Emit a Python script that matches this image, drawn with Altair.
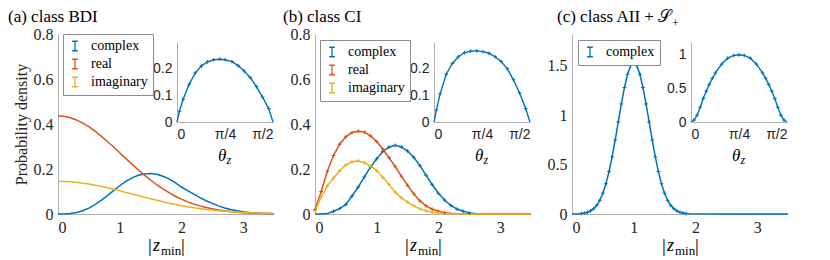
import math
import altair as alt
import pandas as pd

BLUE, ORANGE, YELLOW = "#0072BD", "#D95319", "#EDB120"
SERIF = "Liberation Serif"
SANS = "Liberation Sans"
AX = "#b0b0b0"
TXT = "#262626"

W, H = 216, 180
IX = [119, 215]       # inset x range (px inside plot area)
IY = [88, 8]          # inset y range (px inside plot area)

# ---------------- data ----------------
X_MAIN = [0.0, 0.1, 0.2, 0.3, 0.4, 0.5, 0.6, 0.7, 0.8, 0.9, 1.0, 1.1, 1.2, 1.3, 1.4, 1.5, 1.6, 1.7,
          1.8, 1.9, 2.0, 2.1, 2.2, 2.3, 2.4, 2.5, 2.6, 2.7, 2.8, 2.9, 3.0, 3.1, 3.2, 3.3, 3.4, 3.5]

A_COMPLEX = [0, .0003, .0019, .0063, .0143, .0262, .042, .061, .082, .104, .1255, .145, .1605, .172,
             .178, .180, .1765, .168, .156, .139, .12, .104, .088, .073, .059, .047, .036, .027, .020,
             .014, .010, .007, .005, .003, .002, .001]
A_REAL = [.436, .434, .428, .418, .404, .388, .368, .346, .322, .298, .272, .246, .221, .196, .173,
          .151, .130, .112, .095, .079, .066, .054, .044, .036, .029, .023, .018, .014, .011, .008,
          .006, .0046, .0034, .0025, .0018, .0013]
A_IMAG = [.145, .1445, .143, .1406, .137, .133, .128, .123, .117, .110, .103, .096, .089, .082, .0745,
          .0675, .061, .054, .048, .0425, .037, .032, .028, .024, .0205, .0173, .0146, .0122, .0101,
          .0083, .0068, .0055, .0045, .0036, .0029, .0023]

B_COMPLEX = [0, 0, .002, .012, .024, .042, .08, .12, .165, .208, .245, .278, .297, .305, .298, .28,
             .252, .215, .172, .13, .092, .062, .038, .022, .012, .005, .002, .001, 0, 0, 0, 0, 0, 0, 0, 0]
B_REAL = [.02, .10, .19, .26, .31, .343, .362, .368, .364, .347, .322, .288, .25, .21, .168, .127, .09,
          .058, .036, .021, .012, .006, .003, .0015, .0007, .0003, 0, 0, 0, 0, 0, 0, 0, 0, 0, 0]
B_IMAG = [.015, .075, .125, .16, .192, .218, .232, .236, .228, .213, .193, .163, .131, .097, .072, .053,
          .036, .023, .014, .008, .005, .003, .0015, .001, 0, 0, 0, 0, 0, 0, 0, 0, 0, 0, 0, 0]

C_X = [0, 0.1, 0.15, 0.2, 0.25, 0.3, 0.35, 0.4, 0.45, 0.5, 0.55, 0.6, 0.65, 0.7, 0.75, 0.8, 0.85, 0.9,
       0.95, 1.0, 1.05, 1.1, 1.15, 1.2, 1.25, 1.3, 1.35, 1.4, 1.45, 1.5, 1.55, 1.6, 1.65, 1.7, 1.75, 1.8,
       1.85, 1.9, 2.5, 3.0, 3.5]
C_COMPLEX = [0, .0024, .0049, .0094, .0175, .031, .0533, .0875, .138, .21, .306, .429, .578, .748, .931,
             1.113, 1.279, 1.413, 1.50, 1.53, 1.50, 1.413, 1.279, 1.113, .931, .748, .578, .429, .306,
             .21, .138, .0875, .0533, .031, .0175, .0094, .0049, .0024, 0, 0, 0]

IA_T = [0, 0.04, 0.1, 0.2, 0.3, 0.4, 0.5, 0.6, 0.7, 0.785, 0.9, 1.0, 1.1, 1.2, 1.3, 1.4, 1.5, 1.5708]
IA_V = [0, .04, .085, .141, .183, .209, .224, .232, .234, .232, .225, .21, .19, .165, .132, .093, .05, 0]
IB_T = [0, 0.04, 0.1, 0.2, 0.3, 0.4, 0.5, 0.6, 0.7, 0.8, 0.9, 1.0, 1.1, 1.2, 1.3, 1.4, 1.5, 1.5708]
IB_V = [0, .045, .105, .178, .218, .243, .258, .264, .265, .262, .256, .243, .225, .198, .157, .108, .05, 0]
IC_T = [0, .05, .1, .15, .2, .25, .3, .35, .4, .5, .6, .7, .785, .871, .971, 1.071, 1.171, 1.221, 1.271,
        1.321, 1.371, 1.421, 1.471, 1.521, 1.5708]
IC_V = [0, .03, .10, .22, .35, .46, .56, .65, .73, .86, .95, .99, 1.0, .99, .95, .86, .73, .65, .56, .46,
        .35, .22, .10, .03, 0]

SERIES = ["complex", "real", "imaginary"]
COLORS = {"complex": BLUE, "real": ORANGE, "imaginary": YELLOW}

PLUS = "M-1,0H1M0,-1V1"
IBEAM = "M0,-1V1M-0.6,-1H0.6M-0.6,1H0.6"


def long_df(xs, cols):
    rows = []
    for name, ys in cols.items():
        for xv, yv in zip(xs, ys):
            rows.append({"x": xv, "y": yv, "series": name})
    return pd.DataFrame(rows)


def txt(s, x, y, size, font=SERIF, style="normal", align="left"):
    return alt.Chart(pd.DataFrame({"k": [0]})).mark_text(
        text=s, font=font, fontSize=size, fontStyle=style, align=align,
        baseline="alphabetic", color="black"
    ).encode(x=alt.value(x), y=alt.value(y))


def panel(df, series, ydom, yvals, ytitle, leg_xy, main_markers, inset_t, inset_v, inset_dom,
          inset_vals, title, title_x, sub_plus=None):
    colors = [COLORS[s] for s in series]
    yax = dict(values=yvals, format=".1~f", labelFont=SERIF, labelFontSize=16, labelColor=TXT,
               domainColor=AX, ticks=False, grid=False, labelPadding=5)
    if ytitle:
        yax.update(title=ytitle, titleFont=SERIF, titleFontSize=16, titleFontWeight="normal",
                   titleColor=TXT, titlePadding=4)
    else:
        yax["title"] = None
    x = alt.X("x:Q", scale=alt.Scale(domain=[0, 3.5], nice=False, zero=False),
              axis=alt.Axis(values=[0, 1, 2, 3], format="d", title=None, labelFont=SERIF,
                            labelFontSize=16, labelColor=TXT, domainColor=AX, ticks=False,
                            grid=False, labelPadding=5))
    y = alt.Y("y:Q", scale=alt.Scale(domain=ydom, nice=False, zero=False), axis=alt.Axis(**yax))
    color = alt.Color("series:N", scale=alt.Scale(domain=series, range=colors), sort=series,
                      legend=alt.Legend(title=None, orient="none", legendX=leg_xy[0],
                                        legendY=leg_xy[1], symbolType=IBEAM, symbolSize=90,
                                        symbolStrokeWidth=1.3, labelFont=SERIF, labelFontSize=14,
                                        labelColor="black", strokeColor="#8c8c8c",
                                        fillColor="white", padding=5, rowPadding=2,
                                        labelOffset=9))
    layers = [alt.Chart(df).mark_line(strokeWidth=1.5).encode(x=x, y=y, color=color)]
    if main_markers:
        for s in series:
            layers.append(
                alt.Chart(df).transform_filter(
                    (alt.datum.series == s) & (alt.datum.y > 0.004)
                ).mark_point(shape=PLUS, size=14, strokeWidth=1, filled=False, color=COLORS[s],
                             opacity=1).encode(x="x:Q", y="y:Q"))
    main = alt.layer(*layers)

    idf = pd.DataFrame({"t": inset_t, "v": inset_v})
    ix = alt.X("t:Q", scale=alt.Scale(domain=[0, math.pi / 2], range=IX, nice=False, zero=False),
               axis=alt.Axis(orient="bottom", offset=-(H - IY[0]),
                             values=[0, math.pi / 4, math.pi / 2],
                             labelExpr="datum.value < 0.1 ? '0' : (datum.value < 1 ? 'π/4' : 'π/2')",
                             title=None, labelFont=SANS, labelFontSize=14, labelColor=TXT,
                             domainColor=AX, ticks=False, grid=False, labelPadding=5))
    iy = alt.Y("v:Q", scale=alt.Scale(domain=inset_dom, range=IY, nice=False, zero=False),
               axis=alt.Axis(orient="left", offset=-IX[0], values=inset_vals, format=".1~f",
                             title=None, labelFont=SANS, labelFontSize=14, labelColor=TXT,
                             domainColor=AX, ticks=False, grid=False, labelPadding=5))
    inset = alt.layer(
        alt.Chart(idf).mark_line(color=BLUE, strokeWidth=1.4).encode(x=ix, y=iy),
        alt.Chart(idf).transform_filter(alt.datum.v > 0.01).mark_point(
            shape=PLUS, size=14, strokeWidth=1, filled=False, color=BLUE, opacity=1
        ).encode(x="t:Q", y="v:Q"),
    )

    cx = (IX[0] + IX[1]) / 2
    texts = [
        txt("θ", cx - 7, IY[0] + 39, 17, style="italic"),
        txt("z", cx + 1.5, IY[0] + 42, 12, style="italic"),
        txt("|", W / 2 - 18, H + 38, 19),
        txt("z", W / 2 - 13, H + 37, 18, style="italic"),
        txt("min", W / 2 - 5, H + 41, 13),
        txt("|", W / 2 + 15, H + 38, 19),
        txt(title, title_x, -12, 17),
    ]
    if sub_plus is not None:
        texts.append(txt("+", title_x + sub_plus, -7, 12))
    return alt.layer(main, inset, *texts).resolve_scale(x="independent", y="independent").properties(
        width=W, height=H)


pa = panel(long_df(X_MAIN, {"complex": A_COMPLEX, "real": A_REAL, "imaginary": A_IMAG}), SERIES,
           [0, 0.8], [0, 0.2, 0.4, 0.6, 0.8], "Probability density", (5, 0), False,
           IA_T, IA_V, [0, 0.298], [0, 0.1, 0.2], "(a) class BDI", -50)
pb = panel(long_df(X_MAIN, {"complex": B_COMPLEX, "real": B_REAL, "imaginary": B_IMAG}), SERIES,
           [0, 0.8], [0, 0.2, 0.4, 0.6, 0.8], None, (5, 6), True,
           IB_T, IB_V, [0, 0.298], [0, 0.1, 0.2], "(b) class CI", -32)
pc = panel(long_df(C_X, {"complex": C_COMPLEX}), ["complex"],
           [0, 1.82], [0, 0.5, 1, 1.5], None, (6, 6), True,
           IC_T, IC_V, [0, 1.19], [0, 0.5, 1], "(c) class AII + 𝒮", -15, sub_plus=115)

chart = alt.hconcat(pa, pb, pc, spacing=41, bounds="flush").resolve_scale(
    color="independent").configure_view(strokeWidth=0).properties(padding=0)

chart.save("out.html", embed_options={"renderer": "svg", "actions": False})
